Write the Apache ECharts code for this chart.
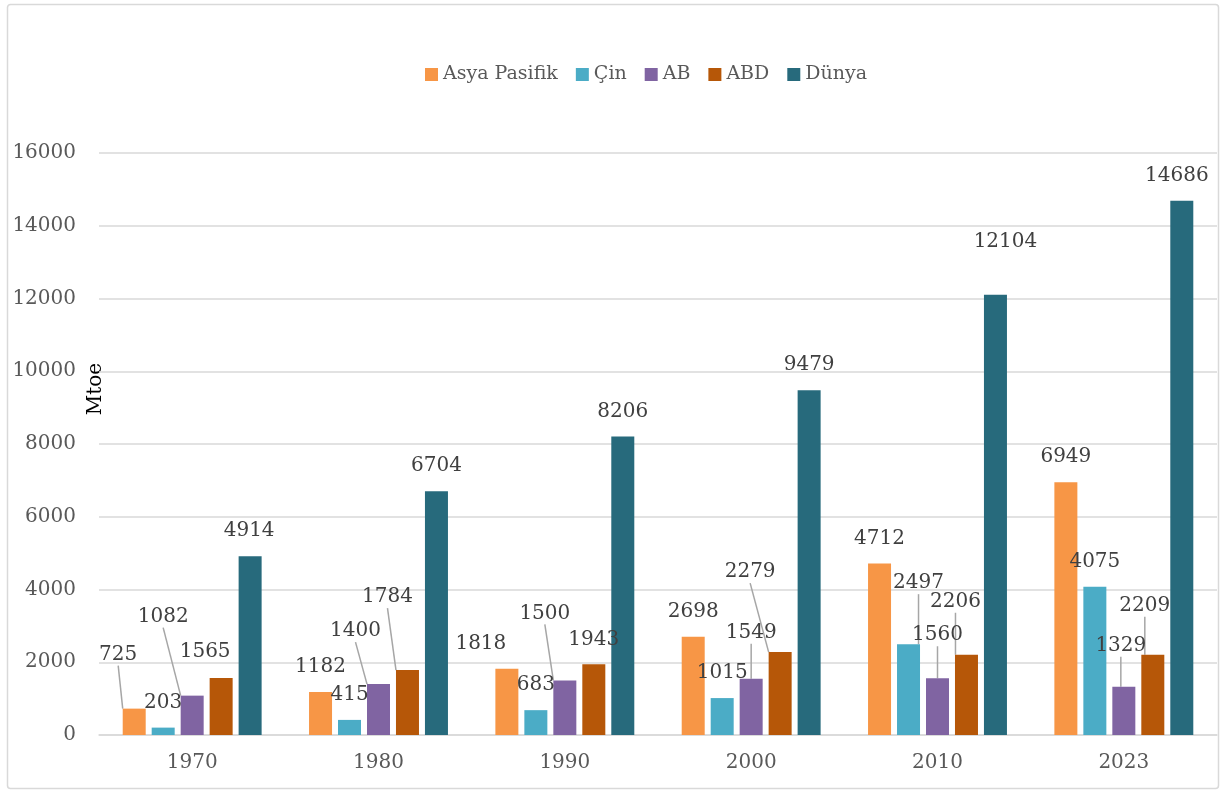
<!DOCTYPE html>
<html>
<head>
<meta charset="utf-8">
<script src="https://cdn.jsdelivr.net/npm/echarts@6/dist/echarts.min.js"></script>
<style>
  html, body { margin: 0; padding: 0; background: #fff; }
  #chart { width: 1221px; height: 791px; }
</style>
</head>
<body>
<div id="chart"></div>
<script>
// yıllar ve seriler (Mtoe)
var years = ['1970', '1980', '1990', '2000', '2010', '2023'];
var asyaPasifik = [725, 1182, 1818, 2698, 4712, 6949];
var cin = [203, 415, 683, 1015, 2497, 4075];
var ab = [1082, 1400, 1500, 1549, 1560, 1329];
var abd = [1565, 1784, 1943, 2279, 2206, 2209];
var dunya = [4914, 6704, 8206, 9479, 12104, 14686];
var seriesNames = ['Asya Pasifik', 'Çin', 'AB', 'ABD', 'Dünya'];
var seriesColors = ['#F79646', '#4BACC6', '#8064A2', '#B65708', '#276A7C'];

// etiket kaydırmaları (dx, dy) - Excel'deki elle taşınmış etiketler
var labelShift = [
    [[-16, -29], [0, 0], [-26, 0], [0, 0], [0, 0], [0, 0]],
    [[0, 0], [0, 0], [0, 0], [0, 0], [10, -36], [0, 0]],
    [[-29, -54], [-23, -28], [-20, -42], [0, -21], [0, -18], [-3, -16]],
    [[-16, -1], [-20, -48], [0, 0], [-30, -55], [-11, -28], [-8, -24]],
    [[-1, 0], [0, 0], [0, 0], [0, 0], [10, -28], [-5, 0]]
];

var allValues = [asyaPasifik, cin, ab, abd, dunya];
var font = 'DejaVu Serif';

var series = [];
for (var s = 0; s < allValues.length; s++) {
    var items = [];
    for (var i = 0; i < allValues[s].length; i++) {
        var sh = labelShift[s][i];
        items.push({
            value: allValues[s][i],
            labelLine: { show: s < 4 && sh[1] < -10 }
        });
    }
    (function (idx) {
        series.push({
            name: seriesNames[idx],
            type: 'bar',
            barWidth: 23,
            barGap: '26%',
            itemStyle: { color: seriesColors[idx] },
            label: {
                show: true,
                position: 'top',
                distance: 14,
                color: '#404040',
                fontFamily: font,
                fontSize: 20,
                lineHeight: 22
            },
            labelLine: {
                show: true,
                lineStyle: { color: '#a6a6a6', width: 1.5 }
            },
            labelLayout: function (params) {
                var o = labelShift[idx][params.dataIndex];
                return { dx: o[0], dy: o[1] };
            },
            data: items
        });
    })(s);
}

var myChart = echarts.init(document.getElementById('chart'));
myChart.setOption({
    animation: false,
    backgroundColor: '#fff',
    grid: { left: 99, right: 4, top: 153, bottom: 56, containLabel: false },
    legend: {
        data: seriesNames,
        left: 420,
        top: 60,
        itemWidth: 13,
        itemHeight: 13,
        itemGap: 18,
        icon: 'rect',
        textStyle: { fontFamily: font, fontSize: 19, color: '#595959' }
    },
    xAxis: {
        type: 'category',
        data: years,
        axisTick: { show: false },
        axisLine: { lineStyle: { color: '#d9d9d9', width: 1.5 } },
        axisLabel: { fontFamily: font, fontSize: 20, color: '#595959', margin: 18 }
    },
    yAxis: {
        type: 'value',
        min: 0,
        max: 16000,
        interval: 2000,
        axisLine: { show: false },
        axisTick: { show: false },
        axisLabel: {
            fontFamily: font, fontSize: 20, color: '#595959', margin: 23,
            formatter: function (v) { return String(v); }
        },
        splitLine: { lineStyle: { color: '#d9d9d9', width: 1.5 } }
    },
    graphic: [
        {
            type: 'rect',
            shape: { x: 7.5, y: 4.5, width: 1211, height: 784, r: 3 },
            style: { fill: 'none', stroke: '#d9d9d9', lineWidth: 1.5 },
            silent: true
        },
        {
            type: 'text',
            x: 96,
            y: 389,
            rotation: Math.PI / 2,
            style: {
                text: 'Mtoe',
                fontFamily: font,
                fontSize: 20,
                fill: '#000',
                align: 'center',
                verticalAlign: 'middle'
            }
        }
    ],
    series: series
});
</script>
</body>
</html>
